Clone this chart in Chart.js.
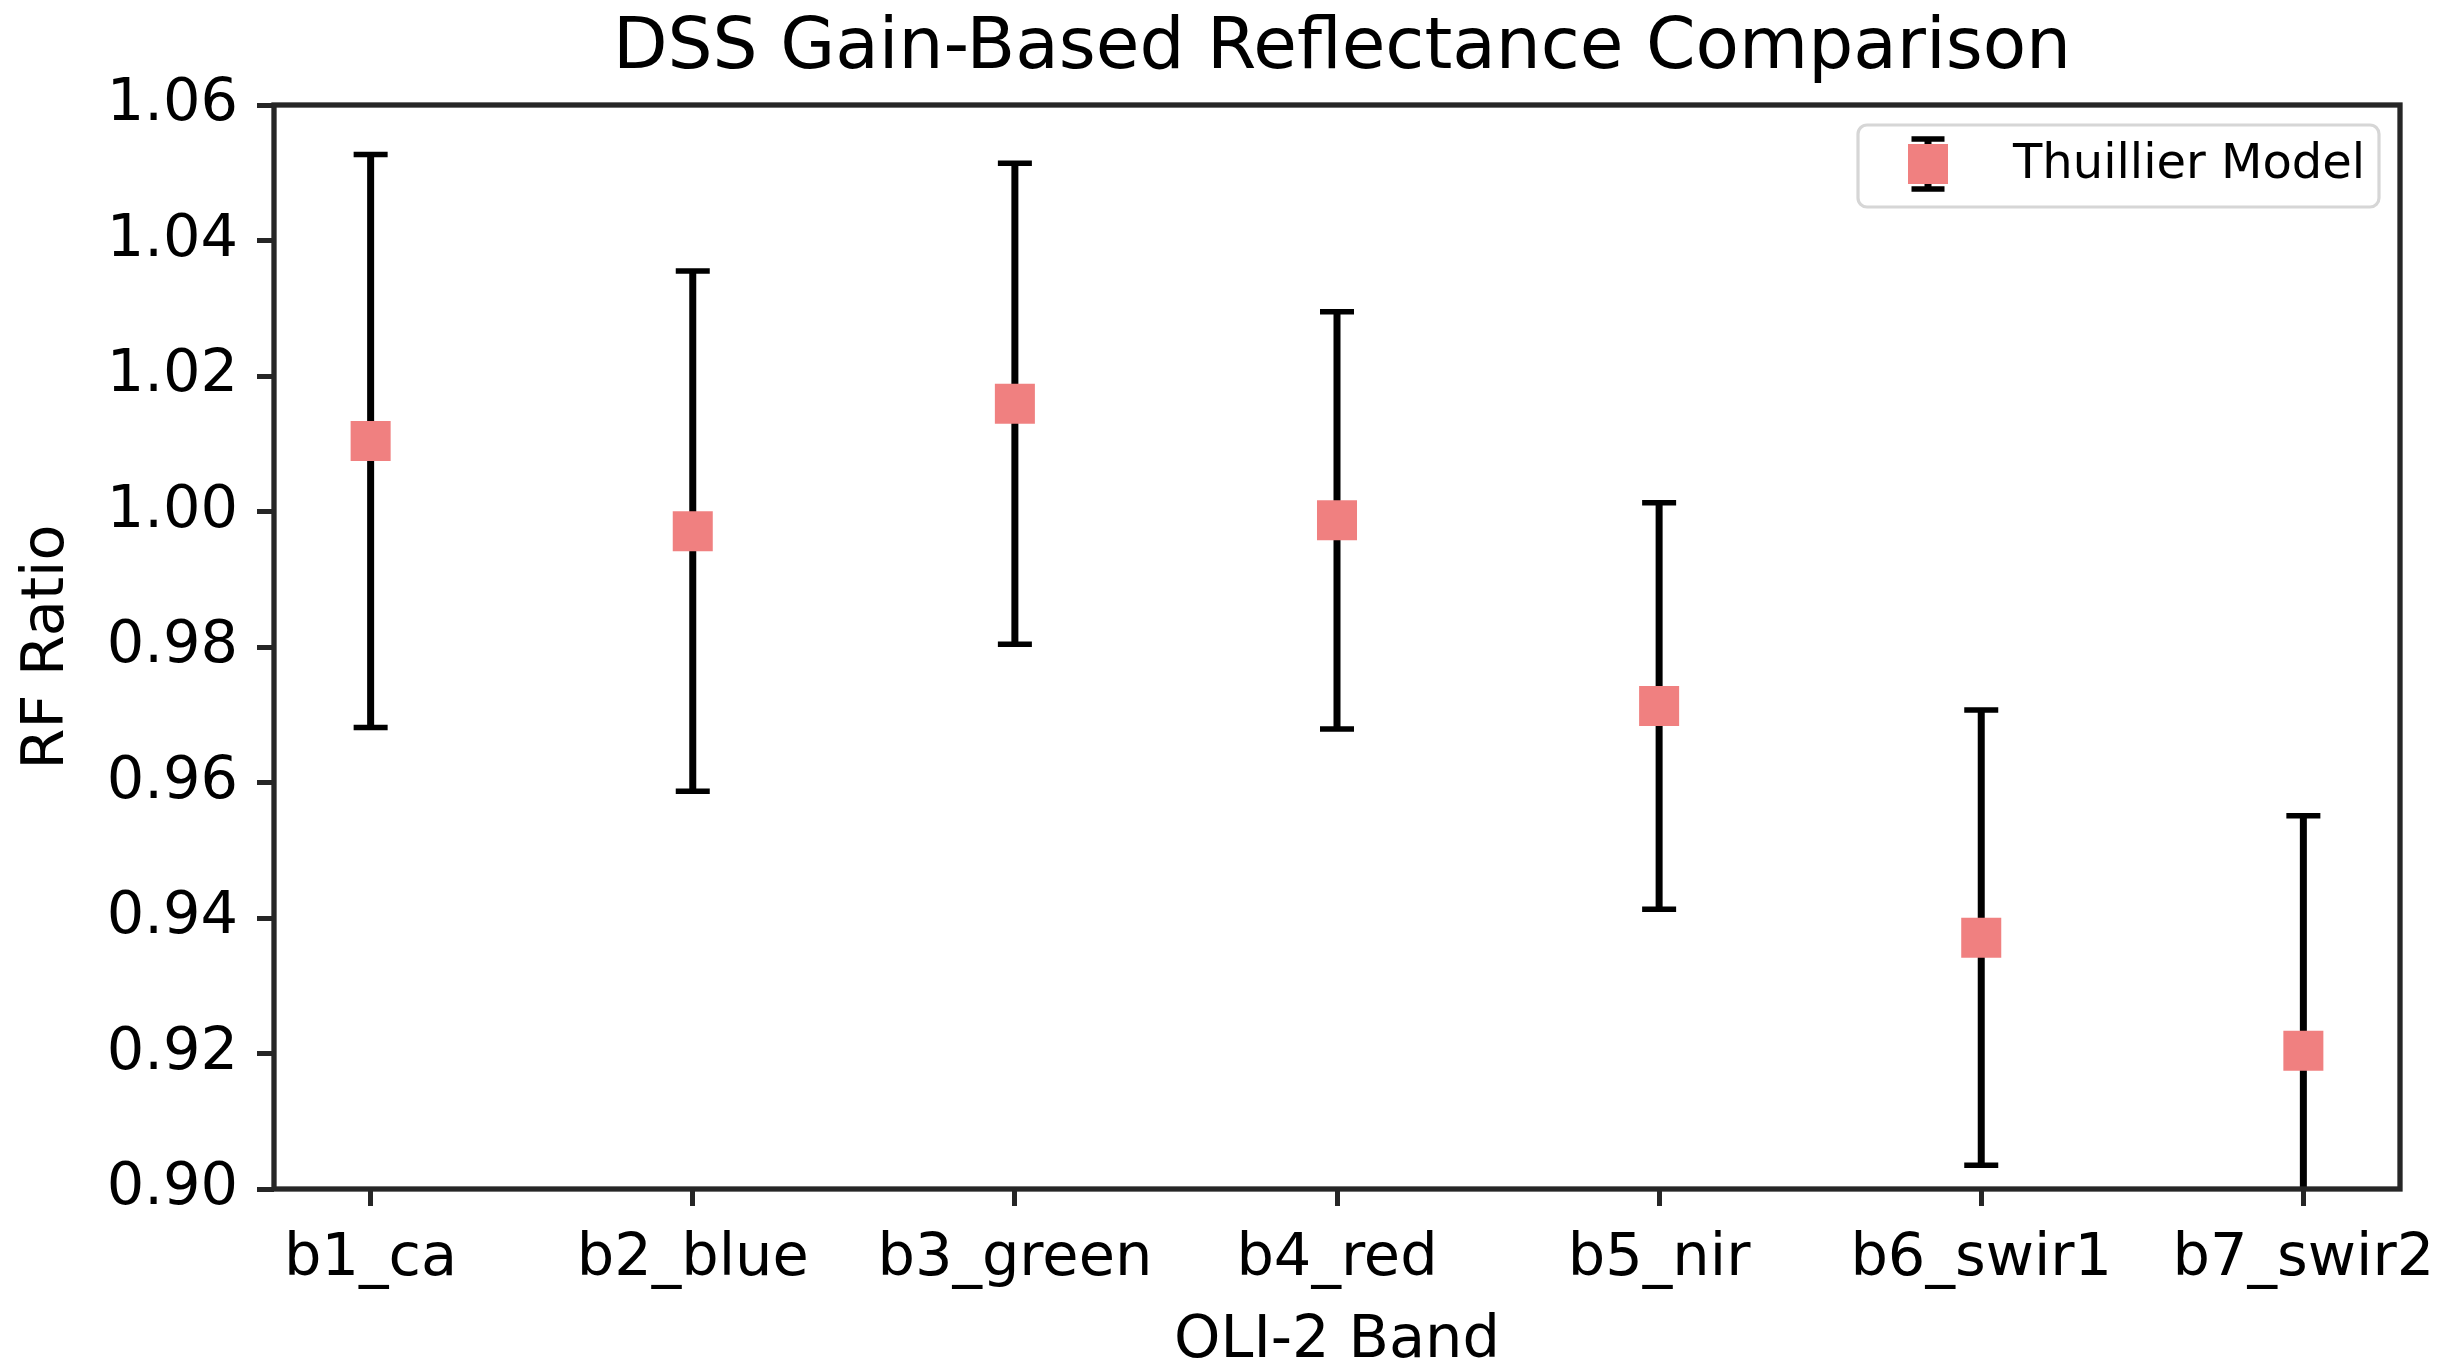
<!DOCTYPE html>
<html>
<head>
<meta charset="utf-8">
<title>DSS Gain-Based Reflectance Comparison</title>
<script src="https://cdn.jsdelivr.net/npm/chart.js@4/dist/chart.umd.min.js"></script>
<style>
  html, body { margin: 0; padding: 0; background: #ffffff; }
  #wrap { width: 2445px; height: 1363px; }
</style>
</head>
<body>
<div id="wrap"><canvas id="chart" width="2445" height="1363"></canvas></div>
<script>
// OLI-2 bands and the reflectance-factor ratios with their uncertainties
const bands = ['b1_ca', 'b2_blue', 'b3_green', 'b4_red', 'b5_nir', 'b6_swir1', 'b7_swir2'];
const rfRatio = [1.0104, 0.9971, 1.0159, 0.9987, 0.9713, 0.9371, 0.9204];
const rfError = [0.0423, 0.0384, 0.0355, 0.0308, 0.0300, 0.0336, 0.0347];
const yTicks = [0.90, 0.92, 0.94, 0.96, 0.98, 1.00, 1.02, 1.04, 1.06];
const seriesName = 'Thuillier Model';

const FONT = 'DejaVu Sans';
const MARKER = '#f08080';
const SPINE = '#262626';

// vertical error bars with caps, drawn beneath the markers
const errorBars = {
  id: 'errorBars',
  beforeDatasetsDraw(chart) {
    const { ctx, chartArea, scales } = chart;
    ctx.save();
    ctx.beginPath();
    ctx.rect(chartArea.left, chartArea.top, chartArea.right - chartArea.left, chartArea.bottom - chartArea.top);
    ctx.clip();
    ctx.strokeStyle = '#000000';
    rfRatio.forEach((v, i) => {
      const x = scales.x.getPixelForValue(i);
      const yHi = scales.y.getPixelForValue(v + rfError[i]);
      const yLo = scales.y.getPixelForValue(v - rfError[i]);
      ctx.lineWidth = 7;
      ctx.beginPath();
      ctx.moveTo(x, yHi);
      ctx.lineTo(x, yLo);
      ctx.stroke();
      ctx.lineWidth = 5.5;
      ctx.beginPath();
      ctx.moveTo(x - 17, yHi);
      ctx.lineTo(x + 17, yHi);
      ctx.moveTo(x - 17, yLo);
      ctx.lineTo(x + 17, yLo);
      ctx.stroke();
    });
    ctx.restore();
  }
};

// axes frame on all four sides
const frame = {
  id: 'frame',
  afterDatasetsDraw(chart) {
    const { ctx, chartArea: a } = chart;
    ctx.save();
    ctx.strokeStyle = SPINE;
    ctx.lineWidth = 5.3;
    ctx.strokeRect(a.left, a.top, a.right - a.left, a.bottom - a.top);
    ctx.restore();
  }
};

// title centred over the plot area
const titleText = {
  id: 'titleText',
  afterDraw(chart) {
    const { ctx, chartArea: a } = chart;
    ctx.save();
    ctx.font = '71px "' + FONT + '"';
    ctx.fillStyle = '#000';
    ctx.textAlign = 'center';
    ctx.textBaseline = 'alphabetic';
    ctx.fillText('DSS Gain-Based Reflectance Comparison', (a.left + a.right) / 2 + 5, 68);
    ctx.restore();
  }
};

// legend box in the upper-right corner of the plot area
const legendBox = {
  id: 'legendBox',
  afterDraw(chart) {
    const { ctx, chartArea: a } = chart;
    const w = 521, h = 82;
    const x0 = a.right - 21 - w, y0 = a.top + 20;
    ctx.save();
    ctx.fillStyle = 'rgba(255,255,255,0.85)';
    ctx.strokeStyle = '#d6d6d6';
    ctx.lineWidth = 3.2;
    ctx.beginPath();
    ctx.roundRect(x0, y0, w, h, 9);
    ctx.fill();
    ctx.stroke();
    // handle: error bar with square marker
    const hx = x0 + 70, hy = y0 + 39;
    ctx.strokeStyle = '#000';
    ctx.lineWidth = 7;
    ctx.beginPath();
    ctx.moveTo(hx, hy - 25);
    ctx.lineTo(hx, hy + 25);
    ctx.stroke();
    ctx.lineWidth = 5.5;
    ctx.beginPath();
    ctx.moveTo(hx - 16.5, hy - 25);
    ctx.lineTo(hx + 16.5, hy - 25);
    ctx.moveTo(hx - 16.5, hy + 25);
    ctx.lineTo(hx + 16.5, hy + 25);
    ctx.stroke();
    ctx.fillStyle = MARKER;
    ctx.fillRect(hx - 20, hy - 20, 40, 40);
    ctx.fillStyle = '#000';
    ctx.font = '48px "' + FONT + '"';
    ctx.textAlign = 'left';
    ctx.textBaseline = 'alphabetic';
    ctx.fillText(seriesName, x0 + 155, y0 + 53);
    ctx.restore();
  }
};

Chart.defaults.font.family = FONT;
Chart.defaults.color = '#000000';

new Chart(document.getElementById('chart'), {
  type: 'scatter',
  data: {
    datasets: [{
      label: seriesName,
      data: rfRatio.map((v, i) => ({ x: i, y: v })),
      pointStyle: 'rect',
      pointRadius: 28.3,
      pointHoverRadius: 28.3,
      pointBackgroundColor: MARKER,
      pointBorderWidth: 0,
      borderWidth: 0
    }]
  },
  options: {
    responsive: false,
    animation: false,
    events: [],
    layout: { padding: { left: 0, right: 45, top: 105, bottom: 0 } },
    plugins: {
      legend: { display: false },
      tooltip: { enabled: false },
      title: { display: false }
    },
    scales: {
      x: {
        type: 'linear',
        min: -0.3,
        max: 6.3,
        afterBuildTicks: (scale) => { scale.ticks = bands.map((_, i) => ({ value: i })); },
        afterFit: (scale) => {
          scale.height = 174;
          scale.paddingLeft = 0;
          scale.paddingRight = 0;
        },
        border: { display: false },
        grid: {
          display: true,
          drawOnChartArea: false,
          drawTicks: true,
          tickLength: 17,
          tickWidth: 5,
          tickColor: SPINE
        },
        ticks: {
          autoSkip: false,
          maxRotation: 0,
          padding: 18,
          font: { size: 59 },
          callback: (v) => bands[v]
        },
        title: {
          display: true,
          text: 'OLI-2 Band',
          font: { size: 59 },
          padding: { top: 0, bottom: -14 }
        }
      },
      y: {
        type: 'linear',
        min: 0.90,
        max: 1.06,
        afterBuildTicks: (scale) => { scale.ticks = yTicks.map((v) => ({ value: v })); },
        afterFit: (scale) => {
          scale.width = 274;
          scale.paddingTop = 0;
          scale.paddingBottom = 0;
        },
        border: { display: false },
        grid: {
          display: true,
          drawOnChartArea: false,
          drawTicks: true,
          tickLength: 17,
          tickWidth: 5,
          tickColor: SPINE
        },
        ticks: {
          padding: 19,
          font: { size: 59 },
          callback: (v) => Number(v).toFixed(2)
        },
        title: {
          display: true,
          text: 'RF Ratio',
          font: { size: 59 },
          padding: { top: 12, bottom: 0 }
        }
      }
    }
  },
  plugins: [errorBars, frame, titleText, legendBox]
});
</script>
</body>
</html>
